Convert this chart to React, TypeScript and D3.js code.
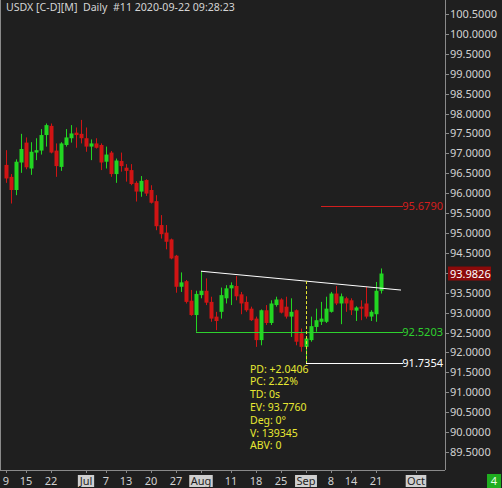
import React from 'react'
import * as d3 from 'd3'

// daily USDX candles, 2020-06-09 .. 2020-09-22
const opens = [96.71, 96.41, 96.08, 96.77, 97.27, 96.62, 97.02, 97.07, 97.46, 97.69, 97.07, 96.66, 97.21, 97.38, 97.52, 97.49, 97.38, 97.17, 97.25, 97.21, 96.79, 97.02, 96.48, 96.81, 96.64, 96.58, 96.26, 96.04, 96.33, 96.08, 95.8, 95.2, 95.01, 94.84, 94.43, 93.65, 93.79, 93.3, 92.94, 93.44, 93.55, 93.27, 92.9, 93.02, 93.36, 93.61, 93.67, 93.46, 93.27, 93.1, 92.85, 92.31, 93.06, 92.74, 93.19, 93.33, 93.15, 92.9, 93.06, 92.48, 92.14, 92.31, 92.64, 92.77, 92.77, 93.02, 93.48, 93.23, 93.36, 93.31, 93.05, 93.15, 93.23, 92.9, 92.96, 93.55]
const highs = [97.08, 96.48, 96.85, 97.49, 97.4, 97.28, 97.38, 97.61, 97.75, 97.75, 97.25, 97.28, 97.61, 97.71, 97.65, 97.84, 97.65, 97.35, 97.38, 97.25, 97.17, 97.06, 96.87, 97.02, 96.73, 96.73, 96.3, 96.43, 96.35, 96.2, 95.95, 95.45, 95.2, 94.86, 94.45, 94.01, 93.82, 93.57, 93.55, 94.04, 93.86, 93.4, 93.02, 93.63, 93.69, 93.76, 93.92, 93.52, 93.41, 93.15, 92.9, 93.08, 93.19, 93.31, 93.4, 93.36, 93.4, 93.36, 93.08, 92.6, 92.41, 92.9, 93.1, 93.27, 93.4, 93.52, 93.67, 93.48, 93.4, 93.36, 93.16, 93.31, 93.65, 93.06, 93.77, 94.11]
const lows = [96.26, 95.74, 95.95, 96.51, 96.6, 96.46, 96.83, 96.97, 97.17, 97.0, 96.41, 96.56, 97.17, 97.27, 97.14, 97.25, 97.04, 96.83, 97.12, 96.58, 96.62, 96.41, 96.26, 96.54, 96.29, 96.2, 95.79, 95.91, 95.93, 95.74, 95.07, 94.86, 94.59, 94.34, 93.5, 93.52, 93.23, 92.92, 92.52, 93.36, 93.19, 92.77, 92.56, 92.85, 93.23, 93.19, 93.31, 92.96, 93.02, 92.79, 92.14, 92.18, 92.69, 92.69, 93.15, 92.98, 92.85, 92.39, 92.18, 92.02, 91.7354, 92.27, 92.52, 92.69, 92.74, 93.0, 93.19, 92.71, 93.02, 92.94, 92.79, 92.81, 92.85, 92.79, 92.77, 93.48]
const closes = [96.37, 96.08, 96.79, 97.11, 96.65, 97.04, 97.08, 97.46, 97.71, 97.02, 96.68, 97.25, 97.4, 97.5, 97.46, 97.38, 97.17, 97.25, 97.14, 96.77, 96.97, 96.48, 96.82, 96.68, 96.56, 96.23, 96.04, 96.31, 95.99, 95.76, 95.17, 94.97, 94.78, 94.36, 93.65, 93.76, 93.27, 92.94, 93.47, 93.55, 93.25, 92.85, 92.79, 93.44, 93.61, 93.69, 93.41, 93.23, 93.06, 92.81, 92.31, 93.06, 92.74, 93.23, 93.33, 93.0, 92.9, 93.02, 92.27, 92.14, 92.35, 92.66, 92.81, 92.85, 93.1, 93.48, 93.23, 93.41, 93.23, 93.06, 93.13, 93.1, 92.9, 93.02, 93.55, 93.9826]

const firstDay = '2020-06-09'
const lastAxisDay = '2020-10-02'

const tickDays = ['2020-06-09', '2020-06-15', '2020-06-22', '2020-07-01', '2020-07-07', '2020-07-13', '2020-07-20', '2020-07-27', '2020-08-03', '2020-08-11', '2020-08-18', '2020-08-25', '2020-09-01', '2020-09-08', '2020-09-14', '2020-09-21', '2020-10-01']
const tickLabels = ['9', '15', '22', 'Jul', '7', '13', '20', '27', 'Aug', '11', '18', '25', 'Sep', '8', '14', '21', 'Oct']

// horizontal levels drawn from a start day to the right edge
const levelDays = ['2020-09-04', '2020-07-31', '2020-09-01']
const levelValues = [95.679, 92.5203, 91.7354]
const levelColors = ['#d21e1e', '#2ed12e', '#ffffff']

// trend line through two highs
const trendDays = ['2020-08-03', '2020-09-17']
const trendValues = [94.04, 93.65]

const lastPrice = 93.9826
const infoLines = ['PD: +2.0406', 'PC: 2.22%', 'TD: 0s', 'EV: 93.7760', 'Deg: 0°', 'V: 139345', 'ABV: 0']
const title = 'USDX [C-D][M]  Daily  #11 2020-09-22 09:28:23'

const W = 502
const H = 488
const plotRight = 445
const plotBottom = 470
const lineEnd = 403
const font = '"Noto Sans", "DejaVu Sans", sans-serif'
const up = '#22d622'
const down = '#d01414'

// rough glyph widths for the month label boxes
const charW: Record<string, number> = { J: 3.5, u: 6.2, l: 2.6, A: 7, g: 6.3, S: 5.6, e: 6, p: 6.3, O: 7.8, c: 5.2, t: 3.6 }

const fmtDay = d3.timeFormat('%Y-%m-%d')
const parseDay = d3.timeParse('%Y-%m-%d')

export default function App() {
  const days = d3
    .timeDay.range(parseDay(firstDay)!, d3.timeDay.offset(parseDay(lastAxisDay)!, 1))
    .filter((d) => d.getDay() % 6 !== 0)
    .map(fmtDay)
  const idx = (day: string) => days.indexOf(day)

  const x = d3.scaleLinear().domain([0, days.length - 1]).range([6, 6 + 5 * (days.length - 1)])
  const y = d3.scaleLinear().domain([89.5, 100.5]).range([452, 14])
  const yTicks = d3.range(89.5, 100.51, 0.5)
  const fmt = d3.format('.4f')

  const candles = closes.map((c, i) => ({ i, o: opens[i], h: highs[i], l: lows[i], c }))

  const t0 = idx(trendDays[0])
  const t1 = idx(trendDays[1])
  const slope = (trendValues[1] - trendValues[0]) / (t1 - t0)
  const trendAt = (i: number) => trendValues[0] + slope * (i - t0)
  const endIdx = x.invert(lineEnd - 2)

  const dashDay = idx(levelDays[2])

  return (
    <svg
      width={W}
      height={H}
      style={{ position: 'absolute', left: 0, top: 0, display: 'block', background: '#1f1f1f' }}
      fontFamily={font}
    >
      <rect width={W} height={H} fill="#1f1f1f" />
      <text x={6} y={11} fontSize={10.6} fill="#d4d4d4" style={{ whiteSpace: 'pre' }}>
        {title}
      </text>

      {/* frame */}
      <line x1={0.5} x2={0.5} y1={0} y2={plotBottom} stroke="#8a8a8a" />
      <line x1={0} x2={plotRight} y1={plotBottom + 0.5} y2={plotBottom + 0.5} stroke="#8a8a8a" />
      <line x1={plotRight + 0.5} x2={plotRight + 0.5} y1={0} y2={plotBottom} stroke="#8a8a8a" />

      {/* right price axis */}
      {yTicks.map((v) => (
        <g key={v}>
          <line x1={plotRight} x2={plotRight + 4} y1={Math.round(y(v)) + 0.5} y2={Math.round(y(v)) + 0.5} stroke="#8a8a8a" />
          <text x={plotRight + 5} y={y(v) + 4} fontSize={11} fill="#d2d2d2">
            {fmt(v)}
          </text>
        </g>
      ))}

      {/* bottom date axis */}
      {tickDays.map((d, k) => {
        const cx = x(idx(d))
        const label = tickLabels[k]
        const month = isNaN(+label)
        const w = d3.sum(label.split(''), (ch) => charW[ch] ?? 6) + 4
        return (
          <g key={d}>
            <line x1={Math.round(cx) + 0.5} x2={Math.round(cx) + 0.5} y1={plotBottom} y2={plotBottom + 3} stroke="#8a8a8a" />
            {month && <rect x={cx - w / 2} y={475} width={w} height={12} fill="#cfcfcf" />}
            <text x={cx} y={485} fontSize={11} textAnchor="middle" fill={month ? '#1f1f1f' : '#d2d2d2'}>
              {label}
            </text>
          </g>
        )
      })}

      {/* candles */}
      {candles.map((d) => {
        const cx = Math.round(x(d.i)) + 0.5
        const col = d.c >= d.o ? up : down
        const top = y(Math.max(d.o, d.c))
        const bot = y(Math.min(d.o, d.c))
        return (
          <g key={d.i}>
            <line x1={cx} x2={cx} y1={y(d.h)} y2={y(d.l)} stroke={col} />
            <rect x={cx - 2} y={top} width={4} height={Math.max(1, bot - top)} fill={col} />
          </g>
        )
      })}

      {/* levels */}
      {levelValues.map((v, k) => (
        <g key={v}>
          <line
            x1={x(idx(levelDays[k]))}
            x2={lineEnd}
            y1={Math.round(y(v)) + 0.5}
            y2={Math.round(y(v)) + 0.5}
            stroke={levelColors[k]}
          />
          <text x={plotRight - 2} y={y(v) + 4} fontSize={11} textAnchor="end" fill={levelColors[k]}>
            {fmt(v)}
          </text>
        </g>
      ))}

      {/* trend line */}
      <line x1={x(t0)} x2={x(endIdx)} y1={y(trendAt(t0))} y2={y(trendAt(endIdx))} stroke="#ffffff" />

      {/* measure */}
      <line
        x1={Math.round(x(dashDay)) + 0.5}
        x2={Math.round(x(dashDay)) + 0.5}
        y1={y(trendAt(dashDay))}
        y2={y(levelValues[2])}
        stroke="#e8e832"
        strokeDasharray="3,2"
      />
      {infoLines.map((s, k) => (
        <text key={s} x={250} y={372.5 + k * 12.8} fontSize={10.5} fill="#e8e832">
          {s}
        </text>
      ))}

      {/* last price tag */}
      <rect x={plotRight + 3} y={y(lastPrice) - 7} width={43} height={14} fill="#8c0a0a" />
      <text x={plotRight + 5} y={y(lastPrice) + 4} fontSize={11} fill="#ffffff">
        {fmt(lastPrice)}
      </text>

      <rect x={487} y={474} width={14} height={14} fill="#1fae1f" />
      <text x={494} y={485} fontSize={11} textAnchor="middle" fill="#e8ffe8">
        4
      </text>
    </svg>
  )
}
